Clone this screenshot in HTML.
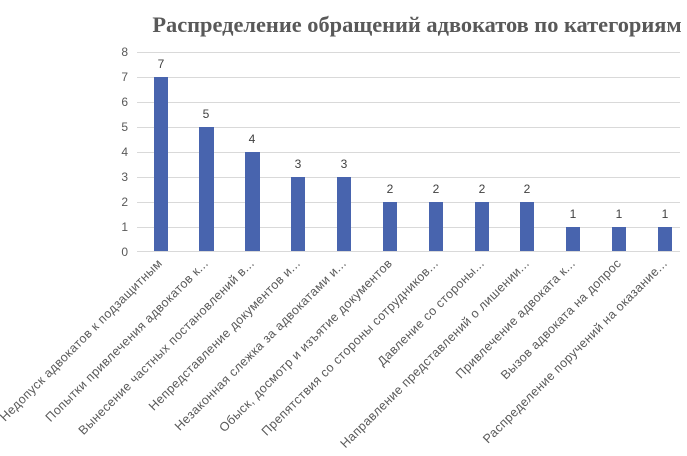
<!DOCTYPE html>
<html><head><meta charset="utf-8"><style>body{margin:0;background:#fff}svg{display:block}</style></head><body>
<svg width="687" height="456" xmlns="http://www.w3.org/2000/svg" font-family="Liberation Sans, sans-serif">
<text x="417" y="32" text-anchor="middle" font-family="Liberation Serif, serif" font-weight="bold" font-size="22.4" fill="#595959">Распределение обращений адвокатов по категориям</text>
<g stroke="#d9d9d9" stroke-width="1">
<line x1="137" x2="680" y1="52.5" y2="52.5"/><line x1="137" x2="680" y1="77.5" y2="77.5"/><line x1="137" x2="680" y1="102.5" y2="102.5"/><line x1="137" x2="680" y1="127.5" y2="127.5"/><line x1="137" x2="680" y1="152.5" y2="152.5"/><line x1="137" x2="680" y1="177.5" y2="177.5"/><line x1="137" x2="680" y1="202.5" y2="202.5"/><line x1="137" x2="680" y1="227.5" y2="227.5"/><line x1="137" x2="680" y1="251.5" y2="251.5"/>
</g>
<g font-size="12" fill="#595959" text-anchor="end">
<text x="128" y="56">8</text><text x="128" y="81">7</text><text x="128" y="106">6</text><text x="128" y="131">5</text><text x="128" y="156">4</text><text x="128" y="181">3</text><text x="128" y="206">2</text><text x="128" y="231">1</text><text x="128" y="256">0</text>
</g>
<g fill="#4864ae">
<rect x="154" y="77" width="14" height="174"/>
<rect x="199" y="127" width="15" height="124"/>
<rect x="245" y="152" width="15" height="99"/>
<rect x="291" y="177" width="14" height="74"/>
<rect x="337" y="177" width="14" height="74"/>
<rect x="383" y="202" width="14" height="49"/>
<rect x="429" y="202" width="14" height="49"/>
<rect x="475" y="202" width="14" height="49"/>
<rect x="520" y="202" width="14" height="49"/>
<rect x="566" y="227" width="14" height="24"/>
<rect x="612" y="227" width="14" height="24"/>
<rect x="658" y="227" width="14" height="24"/>
</g>
<g font-size="12" fill="#404040" text-anchor="middle">
<text x="161" y="68">7</text><text x="206" y="118">5</text><text x="252" y="143">4</text><text x="298" y="168">3</text><text x="344" y="168">3</text><text x="390" y="193">2</text><text x="436" y="193">2</text><text x="482" y="193">2</text><text x="527" y="193">2</text><text x="573" y="218">1</text><text x="619" y="218">1</text><text x="665" y="218">1</text>
</g>
<g font-size="12.5" letter-spacing="0.4" fill="#595959" text-anchor="end">
<text transform="translate(163,264) rotate(-45)">Недопуск адвокатов к подзащитным</text>
<text transform="translate(209,264) rotate(-45)">Попытки привлечения адвокатов к...</text>
<text transform="translate(255,264) rotate(-45)">Вынесение частных постановлений в...</text>
<text transform="translate(301,264) rotate(-45)">Непредставление документов и...</text>
<text transform="translate(347,264) rotate(-45)">Незаконная слежка за адвокатами и...</text>
<text transform="translate(393,264) rotate(-45)">Обыск, досмотр и изъятие документов</text>
<text transform="translate(439,264) rotate(-45)">Препятствия со стороны сотрудников...</text>
<text transform="translate(485,264) rotate(-45)">Давление со стороны...</text>
<text transform="translate(530,264) rotate(-45)">Направление представлений о лишении...</text>
<text transform="translate(576,264) rotate(-45)">Привлечение адвоката к...</text>
<text transform="translate(622,264) rotate(-45)">Вызов адвоката на допрос</text>
<text transform="translate(668,264) rotate(-45)">Распределение поручений на оказание...</text>
</g>
</svg>
</body></html>
